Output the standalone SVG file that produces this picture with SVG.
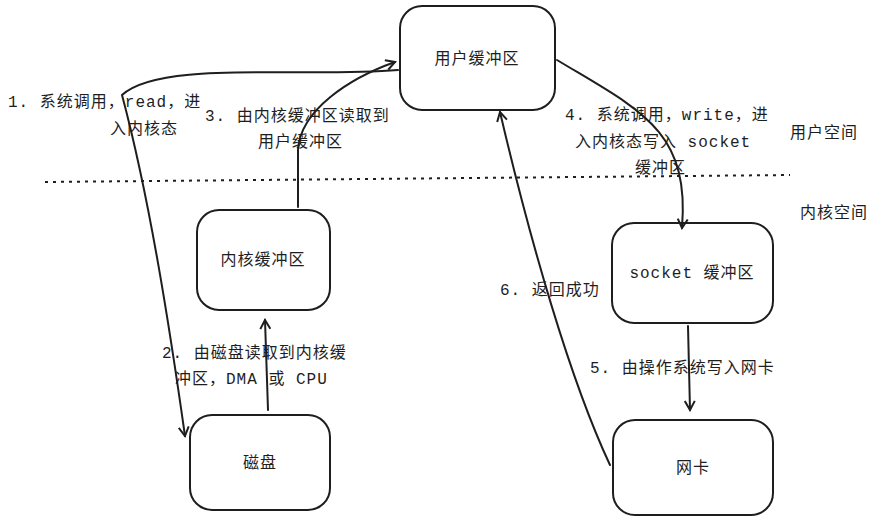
<svg xmlns="http://www.w3.org/2000/svg" width="888" height="531" viewBox="0 0 888 531">
<style>
.n{fill:#fff;stroke:#1e1e1e;stroke-width:2}
.c{fill:none;stroke:#1e1e1e;stroke-width:2;stroke-linecap:round}
text{font-family:"Liberation Mono","Noto Sans CJK SC",monospace;font-size:16px;fill:#1e1e1e;letter-spacing:1px}
.m{text-anchor:middle}
</style>
<defs><marker id="a" viewBox="0 0 12 12" refX="10" refY="6" markerWidth="12" markerHeight="12" markerUnits="userSpaceOnUse" orient="auto"><path d="M1,1 L10,6 L1,11" fill="none" stroke="#1e1e1e" stroke-width="2"/></marker></defs>
<rect width="888" height="531" fill="#fff"/>
<line x1="45" y1="182" x2="790" y2="175" stroke="#1e1e1e" stroke-width="2" stroke-dasharray="3,5"/>
<text x="790" y="138">用户空间</text>
<text x="800" y="218">内核空间</text>
<g id="user"><rect class="n" x="400" y="6" width="155" height="104" rx="22"/><text class="m" x="477" y="64">用户缓冲区</text></g>
<g id="kbuf"><rect class="n" x="197" y="210" width="133" height="100" rx="22"/><text class="m" x="263" y="265">内核缓冲区</text></g>
<g id="disk"><rect class="n" x="190" y="415" width="140" height="95" rx="22"/><text class="m" x="260" y="468">磁盘</text></g>
<g id="sock"><rect class="n" x="612" y="223" width="161" height="100" rx="22"/><text class="m" x="692" y="278">socket 缓冲区</text></g>
<g id="nic"><rect class="n" x="613" y="420" width="160" height="95" rx="22"/><text class="m" x="693" y="473">网卡</text></g>
<g id="edges">
<path class="c" d="M398,70 C300,78 160,60 122,95 C150,200 170,330 185,436" marker-end="url(#a)"/>
<path class="c" d="M298,207 L298,150 C300,110 350,78 395,62" marker-end="url(#a)"/>
<path class="c" d="M268,410 L265,320" marker-end="url(#a)"/>
<path class="c" d="M557,60 C640,110 690,130 682,228" marker-end="url(#a)"/>
<path class="c" d="M688,326 L690,410" marker-end="url(#a)"/>
<path class="c" d="M610,465 C570,380 530,240 500,112" marker-end="url(#a)"/>
</g>
<text x="8" y="107">1. 系统调用，read，进</text>
<text x="110" y="134">入内核态</text>
<text x="205" y="121">3. 由内核缓冲区读取到</text>
<text x="258" y="147">用户缓冲区</text>
<text x="162" y="358">2. 由磁盘读取到内核缓</text>
<text x="175" y="384">冲区，DMA 或 CPU</text>
<text x="565" y="120">4. 系统调用，write，进</text>
<text x="575" y="147">入内核态写入 socket</text>
<text x="635" y="173">缓冲区</text>
<text x="590" y="373">5. 由操作系统写入网卡</text>
<text x="500" y="295">6. 返回成功</text>
</svg>
